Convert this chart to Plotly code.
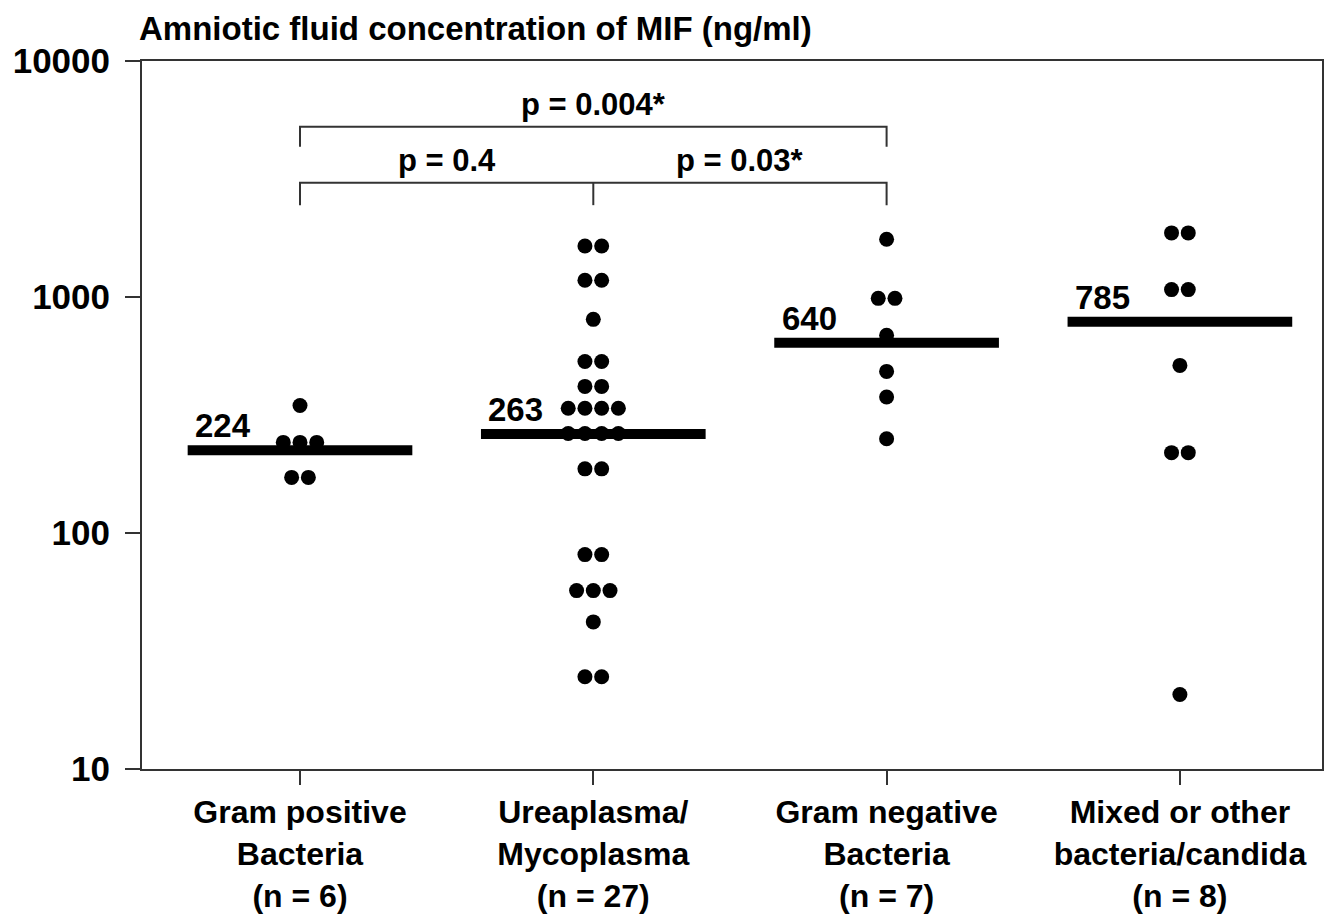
import numpy as np
import plotly.graph_objects as go

# ---- data ----
categories = [
    "Gram positive<br>Bacteria<br>(n = 6)",
    "Ureaplasma/<br>Mycoplasma<br>(n = 27)",
    "Gram negative<br>Bacteria<br>(n = 7)",
    "Mixed or other<br>bacteria/candida<br>(n = 8)",
]
gram_positive = [347, 242, 242, 242, 172, 172]
ureaplasma = [1645, 1645, 1177, 1177, 804, 533, 533, 418, 418,
              338, 338, 338, 338, 264, 264, 264, 264, 187, 187,
              81, 81, 57, 57, 57, 42, 24.6, 24.6]
gram_negative = [1757, 987, 987, 688, 484, 377, 251]
mixed_other = [1869, 1869, 1075, 1075, 513, 219, 219, 20.7]
medians = [224, 263, 640, 785]
median_labels = ["224", "263", "640", "785"]
y_tickvals = [10, 100, 1000, 10000]
y_ticktext = ["10", "100", "1000", "10000"]

# significance brackets: (from group, to group, level, tick bottom, middle ticks)
brackets = [
    dict(g0=1, g1=3, level=5260, low=4330, mids=[]),
    dict(g0=1, g1=3, level=3045, low=2450, mids=[2]),
]
pvals = [
    dict(x=2.0, level=5260, text="p = 0.004*"),
    dict(x=1.5, level=3045, text="p = 0.4"),
    dict(x=2.5, level=3045, text="p = 0.03*"),
]

groups = [gram_positive, ureaplasma, gram_negative, mixed_other]

FONT = "Liberation Sans, Arial, sans-serif"
AXC = "#333333"
SPACING = 0.057   # horizontal spacing between tied dots (x units)
HALF = 0.383      # half-width of median bar (x units)

fig = go.Figure()

# median bars
for i, m in enumerate(medians):
    c = i + 1
    fig.add_trace(go.Scatter(x=[c - HALF, c + HALF], y=[m, m], mode="lines",
                             line=dict(color="black", width=10),
                             hoverinfo="skip", showlegend=False))

# dots with symmetric offsets for tied values
for i, vals in enumerate(groups):
    c = i + 1
    xs, ys = [], []
    uniq = []
    for v in vals:
        if v not in uniq:
            uniq.append(v)
    for v in uniq:
        n = vals.count(v)
        for k in range(n):
            xs.append(c + (k - (n - 1) / 2) * SPACING)
            ys.append(v)
    fig.add_trace(go.Scatter(x=xs, y=ys, mode="markers",
                             marker=dict(color="black", size=15, line=dict(width=0)),
                             showlegend=False))

# brackets
for b in brackets:
    fig.add_trace(go.Scatter(x=[b["g0"], b["g0"], b["g1"], b["g1"]],
                             y=[b["low"], b["level"], b["level"], b["low"]],
                             mode="lines", line=dict(color=AXC, width=2),
                             hoverinfo="skip", showlegend=False))
    for mx in b["mids"]:
        fig.add_trace(go.Scatter(x=[mx, mx], y=[b["level"], b["low"]],
                                 mode="lines", line=dict(color=AXC, width=2),
                                 hoverinfo="skip", showlegend=False))

annotations = []
for p in pvals:
    annotations.append(dict(x=p["x"], y=np.log10(p["level"]), xref="x", yref="y",
                            text=p["text"], showarrow=False, xanchor="center",
                            yanchor="bottom", yshift=3,
                            font=dict(family=FONT, size=31, color="black", weight="bold")))
for i, (m, t) in enumerate(zip(medians, median_labels)):
    annotations.append(dict(x=i + 1, y=np.log10(m), xref="x", yref="y",
                            text=t, showarrow=False, xanchor="left", xshift=-107,
                            yanchor="bottom", yshift=4,
                            font=dict(family=FONT, size=33, color="black", weight="bold")))
annotations.append(dict(x=-0.004, y=1.0466, xref="paper", yref="paper",
                        text="Amniotic fluid concentration of MIF (ng/ml)",
                        showarrow=False, xanchor="left", yanchor="middle",
                        font=dict(family=FONT, size=33, color="black", weight="bold")))

fig.update_layout(
    width=1331, height=915,
    margin=dict(l=142, r=9, t=61, b=146),
    plot_bgcolor="white", paper_bgcolor="white",
    annotations=annotations,
    showlegend=False,
)
fig.update_xaxes(range=[0.4613, 4.4845], tickvals=[1, 2, 3, 4], ticktext=categories,
                 ticks="outside", ticklen=14, tickwidth=2, tickcolor=AXC,
                 showline=True, linewidth=2, linecolor=AXC, mirror=True,
                 showgrid=False, zeroline=False, automargin=False,
                 tickfont=dict(family=FONT, size=32, color="black", weight="bold"))
fig.update_yaxes(type="log", range=[1, 4], tickvals=y_tickvals, ticktext=y_ticktext,
                 ticks="outside", ticklen=15, tickwidth=2, tickcolor=AXC,
                 showline=True, linewidth=2, linecolor=AXC, mirror=True,
                 showgrid=False, zeroline=False, ticklabelstandoff=8, automargin=False,
                 tickfont=dict(family=FONT, size=35, color="black", weight="bold"))

fig.write_html("out.html")
